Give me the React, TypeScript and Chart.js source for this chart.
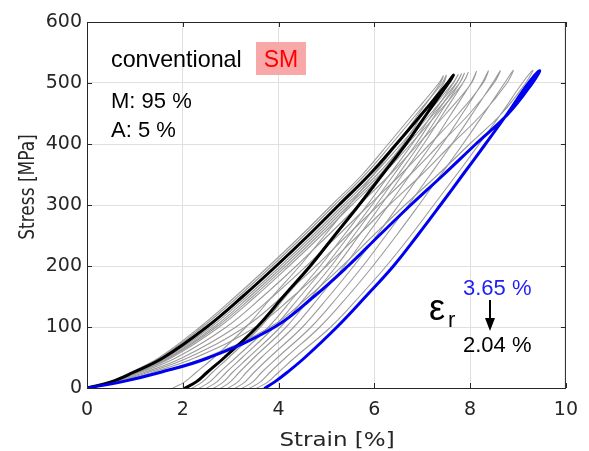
import React, { useEffect, useRef } from "react";
import { Chart, registerables } from "chart.js";

Chart.register(...registerables);

// Stress levels (MPa) at which the strain of each branch was read
const stressLevels = [0, 10, 25, 50, 100, 150, 200, 250, 300, 350, 400, 450, 500];

// First cycle (black)
const firstLoad = [0, 0.5, 0.95, 1.6, 2.5, 3.25, 3.95, 4.62, 5.26, 5.9, 6.46, 7.0, 7.53];
const firstUnload = [2.05, 2.28, 2.5, 2.87, 3.55, 4.1, 4.66, 5.17, 5.68, 6.17, 6.66, 7.1, 7.55];
const firstPeak = [7.65, 513];

// Last cycle (blue)
const lastLoad = [0, 0.72, 1.5, 2.55, 3.92, 4.74, 5.45, 6.1, 6.76, 7.45, 8.12, 8.8, 9.3];
const lastUnload = [3.72, 3.92, 4.17, 4.55, 5.22, 5.82, 6.4, 6.9, 7.38, 7.85, 8.32, 8.78, 9.22];
const lastPeak = [9.45, 520];

// Intermediate cycles (grey)
const grayPeakStrain = [7.44, 7.5, 7.75, 7.82, 7.88, 7.96, 8.13, 8.38, 8.63, 8.9, 9.31];
const grayPeakStress = [512, 513, 514, 515, 516, 517, 519, 520, 520, 521, 521];
const grayLoad = [
  [0, 0.48, 0.9, 1.51, 2.36, 3.1, 3.8, 4.47, 5.11, 5.75, 6.29, 6.82, 7.35],
  [0, 0.49, 0.92, 1.54, 2.41, 3.16, 3.86, 4.53, 5.17, 5.81, 6.36, 6.89, 7.42],
  [0, 0.51, 0.98, 1.66, 2.59, 3.34, 4.04, 4.71, 5.35, 5.99, 6.56, 7.11, 7.64],
  [0, 0.52, 1.01, 1.7, 2.65, 3.4, 4.1, 4.77, 5.41, 6.06, 6.63, 7.18, 7.71],
  [0, 0.53, 1.03, 1.73, 2.7, 3.46, 4.16, 4.83, 5.47, 6.12, 6.69, 7.25, 7.78],
  [0, 0.54, 1.05, 1.77, 2.76, 3.52, 4.22, 4.89, 5.53, 6.18, 6.76, 7.32, 7.85],
  [0, 0.56, 1.1, 1.87, 2.91, 3.67, 4.37, 5.03, 5.68, 6.33, 6.92, 7.5, 8.03],
  [0, 0.59, 1.18, 2.0, 3.11, 3.88, 4.58, 5.24, 5.89, 6.55, 7.16, 7.76, 8.27],
  [0, 0.62, 1.25, 2.12, 3.3, 4.08, 4.78, 5.43, 6.09, 6.75, 7.37, 7.99, 8.5],
  [0, 0.65, 1.34, 2.27, 3.52, 4.3, 5.0, 5.66, 6.31, 6.99, 7.62, 8.26, 8.77],
  [0, 0.7, 1.46, 2.47, 3.83, 4.63, 5.33, 5.98, 6.64, 7.33, 7.99, 8.66, 9.16],
];
const grayUnload = [
  [1.8, 2.04, 2.27, 2.65, 3.32, 3.87, 4.44, 4.96, 5.48, 5.98, 6.48, 6.93, 7.38],
  [2.2, 2.41, 2.61, 2.96, 3.62, 4.15, 4.69, 5.18, 5.66, 6.13, 6.6, 7.02, 7.45],
  [2.35, 2.56, 2.76, 3.11, 3.79, 4.33, 4.87, 5.36, 5.85, 6.32, 6.79, 7.22, 7.65],
  [2.5, 2.71, 2.9, 3.24, 3.91, 4.45, 4.98, 5.47, 5.95, 6.41, 6.87, 7.29, 7.72],
  [2.65, 2.85, 3.03, 3.37, 4.04, 4.57, 5.1, 5.57, 6.04, 6.5, 6.95, 7.37, 7.78],
  [2.8, 2.99, 3.17, 3.49, 4.16, 4.69, 5.21, 5.68, 6.14, 6.59, 7.03, 7.44, 7.85],
  [2.95, 3.15, 3.32, 3.64, 4.32, 4.86, 5.37, 5.84, 6.3, 6.75, 7.2, 7.61, 8.02],
  [3.1, 3.3, 3.48, 3.81, 4.5, 5.05, 5.57, 6.05, 6.51, 6.96, 7.42, 7.84, 8.25],
  [3.25, 3.46, 3.64, 3.98, 4.68, 5.24, 5.76, 6.24, 6.71, 7.17, 7.62, 8.05, 8.47],
  [3.4, 3.62, 3.81, 4.15, 4.86, 5.44, 5.97, 6.46, 6.93, 7.39, 7.85, 8.29, 8.72],
  [3.55, 3.78, 3.99, 4.34, 5.09, 5.69, 6.25, 6.76, 7.24, 7.72, 8.19, 8.65, 9.09],
];

const xTicks = [0, 2, 4, 6, 8, 10];
const yTicks = [0, 100, 200, 300, 400, 500, 600];

const xTitle = "Strain [%]";
const yTitle = "Stress [MPa]";
const labelConventional = "conventional";
const labelSM = "SM";
const labelM = "M: 95 %";
const labelA = "A: 5 %";
const labelStrainBefore = "3.65 %";
const labelStrainAfter = "2.04 %";

function cycle(load: number[], unload: number[], peakX: number, peakY: number) {
  const pts: { x: number; y: number }[] = load.map((x, i) => ({ x, y: stressLevels[i] }));
  pts.push({ x: peakX, y: peakY });
  for (let i = unload.length - 1; i >= 0; i--) pts.push({ x: unload[i], y: stressLevels[i] });
  return pts;
}

const AXIS = "#262626";
const SANS = "'Liberation Sans', Arial, sans-serif";
const DEJAVU = "'DejaVu Sans', sans-serif";

function drawText(
  ctx: CanvasRenderingContext2D,
  text: string,
  x: number,
  y: number,
  font: string,
  color: string,
  align: "left" | "center" | "right" = "left",
  sx = 1
) {
  ctx.save();
  ctx.font = font;
  ctx.fillStyle = color;
  ctx.textBaseline = "alphabetic";
  ctx.textAlign = "left";
  ctx.translate(x, y);
  ctx.scale(sx, 1);
  const w = ctx.measureText(text).width;
  const dx = align === "center" ? -w / 2 : align === "right" ? -w : 0;
  ctx.fillText(text, dx, 0);
  ctx.restore();
}

const decorPlugin = {
  id: "decor",
  afterDraw(chart: any) {
    const ctx: CanvasRenderingContext2D = chart.ctx;
    const { left, right, top, bottom } = chart.chartArea;
    const xs = chart.scales.x;
    const ys = chart.scales.y;
    ctx.save();
    // box
    ctx.strokeStyle = AXIS;
    ctx.lineWidth = 1;
    ctx.strokeRect(left + 0.5, top + 0.5, right - left - 1, bottom - top);
    // inward ticks on all sides
    const tl = 5;
    ctx.beginPath();
    xTicks.forEach((v) => {
      const px = Math.round(xs.getPixelForValue(v)) + 0.5;
      ctx.moveTo(px, bottom);
      ctx.lineTo(px, bottom - tl);
      ctx.moveTo(px, top);
      ctx.lineTo(px, top + tl);
    });
    yTicks.forEach((v) => {
      const py = Math.round(ys.getPixelForValue(v)) + 0.5;
      ctx.moveTo(left, py);
      ctx.lineTo(left + tl, py);
      ctx.moveTo(right, py);
      ctx.lineTo(right - tl, py);
    });
    ctx.stroke();

    // axis titles
    drawText(ctx, xTitle, 337, 446, `20px ${DEJAVU}`, AXIS, "center", 1.15);
    ctx.save();
    ctx.translate(34, 187);
    ctx.rotate(-Math.PI / 2);
    ctx.scale(1, 1.22);
    ctx.font = `17px ${DEJAVU}`;
    ctx.fillStyle = AXIS;
    ctx.textAlign = "center";
    ctx.textBaseline = "alphabetic";
    ctx.fillText(yTitle, 0, 0);
    ctx.restore();

    // annotations
    drawText(ctx, labelConventional, 111, 67, `24px ${SANS}`, "#000", "left", 0.97);
    ctx.fillStyle = "#f8a8a8";
    ctx.fillRect(256, 42, 50, 33);
    drawText(ctx, labelSM, 281, 67, `23px ${SANS}`, "#ff0000", "center");
    drawText(ctx, labelM, 111, 108, `22px ${SANS}`, "#000");
    drawText(ctx, labelA, 111, 137, `22px ${SANS}`, "#000");

    drawText(ctx, labelStrainBefore, 463, 295, `22px ${SANS}`, "rgb(30,30,245)");
    drawText(ctx, labelStrainAfter, 463, 352, `22px ${SANS}`, "#000");
    drawText(ctx, "ε", 429, 320, `36px ${SANS}`, "#000");
    drawText(ctx, "r", 448, 327, `22px ${SANS}`, "#000");

    // arrow
    ctx.strokeStyle = "#000";
    ctx.lineWidth = 2;
    ctx.beginPath();
    ctx.moveTo(490, 300);
    ctx.lineTo(490, 322);
    ctx.stroke();
    ctx.fillStyle = "#000";
    ctx.beginPath();
    ctx.moveTo(485, 318);
    ctx.lineTo(495, 318);
    ctx.lineTo(490, 331);
    ctx.closePath();
    ctx.fill();
    ctx.restore();
  },
};

export default function App() {
  const ref = useRef<HTMLCanvasElement | null>(null);

  useEffect(() => {
    if (!ref.current) return;
    const datasets: any[] = [];
    datasets.push({
      data: cycle(lastLoad, lastUnload, lastPeak[0], lastPeak[1]),
      borderColor: "rgb(0,0,240)",
      borderWidth: 3,
    });
    datasets.push({
      data: cycle(firstLoad, firstUnload, firstPeak[0], firstPeak[1]),
      borderColor: "#000",
      borderWidth: 3,
    });
    grayLoad.forEach((load, k) => {
      datasets.push({
        data: cycle(load, grayUnload[k], grayPeakStrain[k], grayPeakStress[k]),
        borderColor: "rgb(155,155,155)",
        borderWidth: 1.1,
      });
    });
    datasets.forEach((d) => {
      d.showLine = true;
      d.pointRadius = 0;
      d.tension = 0.4;
      d.fill = false;
      d.borderJoinStyle = "round";
      d.borderCapStyle = "round";
    });

    const chart = new Chart(ref.current, {
      type: "scatter",
      data: { datasets },
      options: {
        animation: false,
        responsive: false,
        maintainAspectRatio: false,
        layout: { padding: { left: 0, right: 21, top: 22, bottom: 0 } },
        plugins: { legend: { display: false }, tooltip: { enabled: false } },
        scales: {
          x: {
            type: "linear",
            min: 0,
            max: 10,
            afterBuildTicks: (s: any) => {
              s.ticks = xTicks.map((v) => ({ value: v }));
            },
            afterFit: (s: any) => {
              s.height = 63;
            },
            ticks: {
              font: { family: "DejaVu Sans", size: 19 },
              color: AXIS,
              padding: 11,
              maxRotation: 0,
            },
            grid: { color: "rgb(224,224,224)", drawTicks: false },
            border: { color: AXIS, width: 1 },
          },
          y: {
            type: "linear",
            min: 0,
            max: 600,
            afterBuildTicks: (s: any) => {
              s.ticks = yTicks.map((v) => ({ value: v }));
            },
            afterFit: (s: any) => {
              s.width = 87;
            },
            ticks: {
              font: { family: "DejaVu Sans", size: 19 },
              color: AXIS,
              padding: 5,
            },
            grid: { color: "rgb(224,224,224)", drawTicks: false },
            border: { color: AXIS, width: 1 },
          },
        },
      },
      plugins: [decorPlugin],
    });
    return () => chart.destroy();
  }, []);

  return (
    <div style={{ position: "fixed", left: 0, top: 0, width: 589, height: 451, background: "#fff" }}>
      <canvas ref={ref} width={589} height={451} style={{ display: "block" }} />
    </div>
  );
}
